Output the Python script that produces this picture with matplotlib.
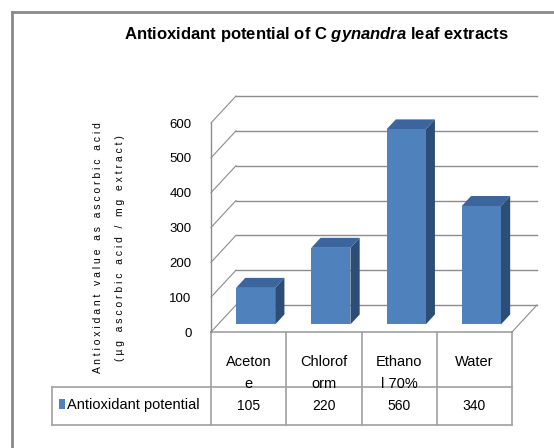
import matplotlib
matplotlib.use("Agg")
import matplotlib.pyplot as plt
from matplotlib.patches import Polygon, Rectangle
from matplotlib.transforms import blended_transform_factory

# data
categories = ["Acetone", "Chloroform", "Ethanol 70%", "Water"]
category_lines = [("Aceton", "e"), ("Chlorof", "orm"), ("Ethano", "l 70%"), ("Water", "")]
values = [105, 220, 560, 340]
value_labels = ["105", "220", "560", "340"]
y_ticks = [0, 100, 200, 300, 400, 500, 600]
series_name = "Antioxidant potential"
title_text = "Antioxidant potential of C $\\mathit{gynandra}$ leaf extracts"
ylabel_col1 = "Antioxidant value as ascorbic acid"
ylabel_col2 = "(µg ascorbic acid / mg extract)"

plt.rcParams["font.family"] = ["Liberation Sans", "DejaVu Sans"]
plt.rcParams["mathtext.fontset"] = "custom"
plt.rcParams["mathtext.it"] = "Liberation Sans:italic:bold"
plt.rcParams["mathtext.rm"] = "Liberation Sans:bold"

W, H = 554, 448
fig = plt.figure(figsize=(W / 100, H / 100), dpi=100)

# background layer in pixel coordinates (frame, table, labels)
bg = fig.add_axes([0, 0, 1, 1])
bg.set_xlim(0, W)
bg.set_ylim(H, 0)
bg.axis("off")

grid_col = "#8c8c8c"
table_col = "#a0a0a0"

# outer chart frame
bg.plot([12, 12], [12, H], color="#8a8a8a", lw=2)
bg.plot([12, W], [12, 12], color="#8a8a8a", lw=2)

# front plane of the 3D plot
L, R, T, B = 211, 512, 123, 332
ax = fig.add_axes([L / W, 1 - B / H, (R - L) / W, (B - T) / H])
ax.set_xlim(0, len(categories))
ax.set_ylim(0, 600)
ax.patch.set_visible(False)
for s in ["top", "right", "bottom"]:
    ax.spines[s].set_visible(False)
ax.spines["left"].set_color(grid_col)
ax.spines["left"].set_linewidth(1.0)
ax.set_xticks([])
ax.set_yticks(y_ticks)
ax.tick_params(axis="y", length=0, pad=14, labelsize=9.5)

# depth offset of back wall (data units)
Dx, Dy = 0.332, 77.5
n = len(categories)

for v in y_ticks:
    ax.plot([Dx, n + Dx], [v + Dy, v + Dy], color=grid_col, lw=1.0, clip_on=False, zorder=1)
    ax.plot([0, Dx], [v, v + Dy], color=grid_col, lw=0.8, clip_on=False, zorder=1)
ax.plot([n, n + Dx], [0, Dy], color=grid_col, lw=0.8, clip_on=False, zorder=1)

# bars
bar_w = 0.52
f0, f1 = 0.28, 0.65
front_c, side_c, top_c = "#4f81bd", "#2c4d75", "#3b659c"
ddx, ddy = (f1 - f0) * Dx, (f1 - f0) * Dy
for i, v in enumerate(values):
    x0 = i + 0.5 - bar_w / 2 + f0 * Dx
    x1 = x0 + bar_w
    y0 = f0 * Dy
    y1 = v + y0
    ax.add_patch(Polygon([(x1, y0), (x1 + ddx, y0 + ddy), (x1 + ddx, y1 + ddy), (x1, y1)],
                         closed=True, fc=side_c, ec="none", clip_on=False, zorder=3))
    ax.add_patch(Polygon([(x0, y1), (x1, y1), (x1 + ddx, y1 + ddy), (x0 + ddx, y1 + ddy)],
                         closed=True, fc=top_c, ec="none", clip_on=False, zorder=3))
    ax.add_patch(Rectangle((x0, y0), bar_w, v, fc=front_c, ec="none", clip_on=False, zorder=4))

# data table under the plot
tr = blended_transform_factory(ax.transData, bg.transData)
row1, row2, row3 = 332, 387, 425
bg.plot([L, R], [row1, row1], color=table_col, lw=1.2)
bg.plot([52, R], [row2, row2], color=table_col, lw=1.2)
bg.plot([52, R], [row3, row3], color=table_col, lw=1.2)
bg.plot([52, 52], [row2, row3], color=table_col, lw=1.2)
for k in range(n + 1):
    bg.plot([k, k], [row1, row3], color=table_col, lw=1.2, transform=tr)

for i, (a, b) in enumerate(category_lines):
    bg.text(i + 0.5, 362, a, transform=tr, ha="center", va="center", fontsize=10.5)
    if b:
        bg.text(i + 0.5, 384, b, transform=tr, ha="center", va="center", fontsize=10.5)
    bg.text(i + 0.5, 406, value_labels[i], transform=tr, ha="center", va="center", fontsize=10)

bg.add_patch(Rectangle((59, 399), 6, 10, fc=front_c, ec="none"))
bg.text(67, 405, series_name, ha="left", va="center", fontsize=10.5)

# title
fig.text(316 / W, 1 - 35 / H, title_text, ha="center", va="center",
         fontsize=12, fontweight="bold")

# stacked vertical axis title
bg.text(98, 248, " ".join(ylabel_col1), rotation=90, ha="center", va="center", fontsize=7.5)
bg.text(120, 248, " ".join(ylabel_col2), rotation=90, ha="center", va="center", fontsize=7.5)

fig.savefig("out.png", dpi=100)
